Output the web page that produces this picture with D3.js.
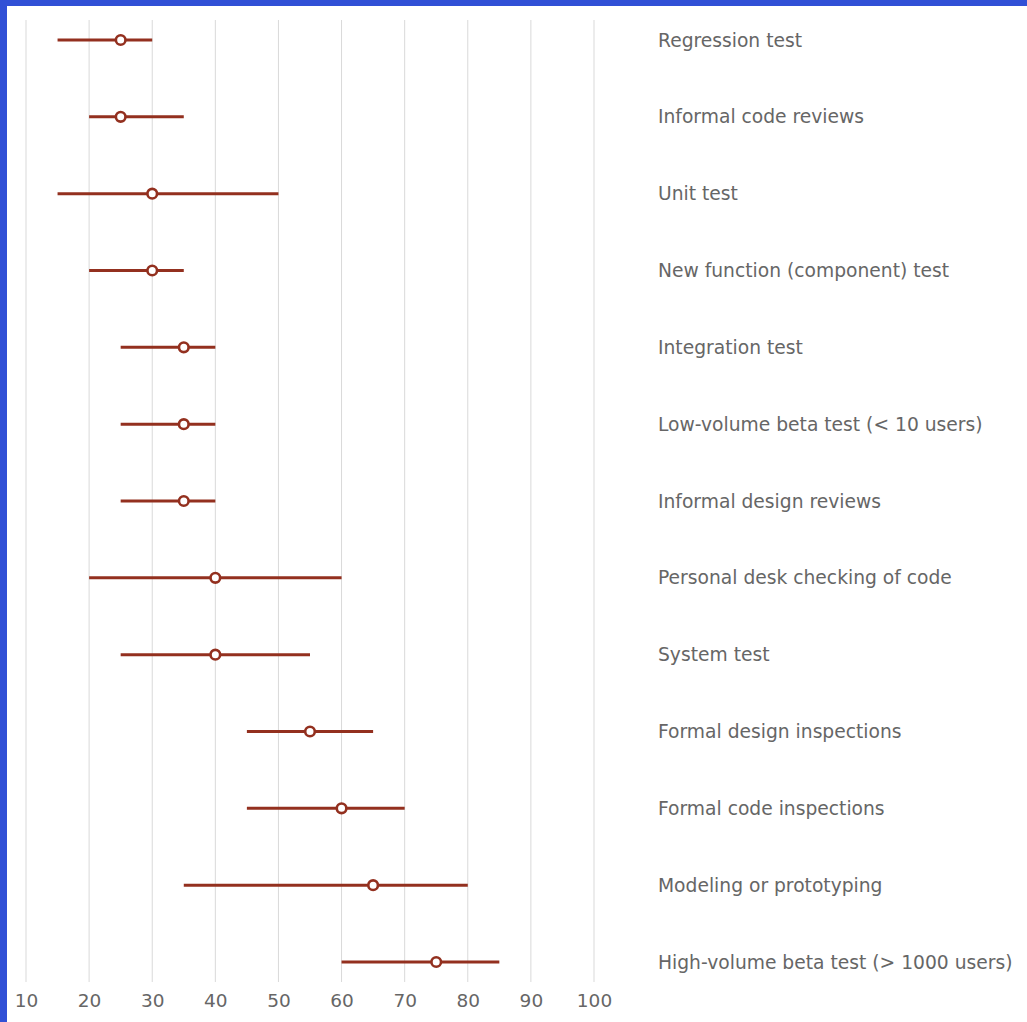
<!DOCTYPE html>
<html><head><meta charset="utf-8">
<script src="https://cdn.jsdelivr.net/npm/d3@7"></script>
<style>
html,body{margin:0;padding:0;background:#3150d6;}
svg{display:block;}
svg text{font-family:'DejaVu Sans','Bitstream Vera Sans',Verdana,sans-serif;}
</style></head>
<body>
<svg id="chart" width="1027" height="1022"></svg>
<script>
const categories = [
  "Regression test",
  "Informal code reviews",
  "Unit test",
  "New function (component) test",
  "Integration test",
  "Low-volume beta test (< 10 users)",
  "Informal design reviews",
  "Personal desk checking of code",
  "System test",
  "Formal design inspections",
  "Formal code inspections",
  "Modeling or prototyping",
  "High-volume beta test (> 1000 users)"
];
const lowValues  = [15, 20, 15, 20, 25, 25, 25, 20, 25, 45, 45, 35, 60];
const midValues  = [25, 25, 30, 30, 35, 35, 35, 40, 40, 55, 60, 65, 75];
const highValues = [30, 35, 50, 35, 40, 40, 40, 60, 55, 65, 70, 80, 85];
const tickValues = [10, 20, 30, 40, 50, 60, 70, 80, 90, 100];

const svg = d3.select("#chart");
svg.append("rect").attr("x", 7).attr("y", 6).attr("width", 1020).attr("height", 1016).attr("fill", "#ffffff");

const x = d3.scaleLinear().domain([10, 100]).range([26, 594]);
const y = d3.scalePoint().domain(categories).range([40, 962]);

const gridTop = 20, gridBottom = 982;
svg.append("g").selectAll("line").data(tickValues).join("line")
  .attr("x1", d => x(d)).attr("x2", d => x(d))
  .attr("y1", gridTop).attr("y2", gridBottom)
  .attr("stroke", "#d9d9d9").attr("stroke-width", 1);

const axis = d3.axisBottom(x).tickValues(tickValues).tickSize(0).tickPadding(0).tickFormat(d3.format("d"));
const ag = svg.append("g").attr("transform", "translate(0,1007)").call(axis);
ag.select(".domain").remove();
ag.selectAll("text").attr("dy", 0).attr("fill", "#666666")
  .attr("font-family", null).style("font-size", "18.5px");

const rows = categories.map((c, i) => ({c, lo: lowValues[i], mid: midValues[i], hi: highValues[i]}));
const color = "#93301f";
const g = svg.append("g");
g.selectAll("line.range").data(rows).join("line").attr("class", "range")
  .attr("x1", d => x(d.lo)).attr("x2", d => x(d.hi))
  .attr("y1", d => y(d.c)).attr("y2", d => y(d.c))
  .attr("stroke", color).attr("stroke-width", 3);
g.selectAll("circle").data(rows).join("circle")
  .attr("cx", d => x(d.mid)).attr("cy", d => y(d.c)).attr("r", 4.8)
  .attr("fill", "#fff").attr("stroke", color).attr("stroke-width", 2.6);

svg.append("g").selectAll("text").data(categories).join("text")
  .attr("x", 658).attr("y", d => y(d)).attr("dy", "0.35em")
  .attr("fill", "#666666").style("font-size", "18.7px")
  .text(d => d);
</script>
</body></html>
